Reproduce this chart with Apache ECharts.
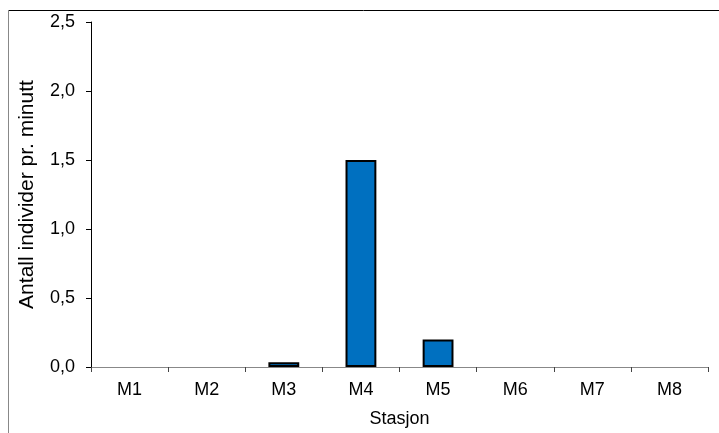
<!DOCTYPE html>
<html>
<head>
<meta charset="utf-8">
<script src="https://cdn.jsdelivr.net/npm/echarts@6/dist/echarts.min.js"></script>
<style>html,body{margin:0;padding:0;background:#fff}#c{width:719px;height:433px}</style>
</head>
<body>
<div id="c"></div>
<script>
var categories = ['M1','M2','M3','M4','M5','M6','M7','M8'];
var values = [0, 0, 0.035, 1.5, 0.2, 0, 0, 0];
var yTicks = [0, 0.5, 1.0, 1.5, 2.0, 2.5];

var chart = echarts.init(document.getElementById('c'), null, {renderer:'canvas'});
var font = 'Liberation Sans, Arial, sans-serif';
var barData = values.map(function(v){
  return v === 0 ? {value: v, itemStyle: {borderWidth: 0}} : v;
});
chart.setOption({
  animation: false,
  backgroundColor: '#fff',
  graphic: [
    {type:'line', shape:{x1:8, y1:10.5, x2:719, y2:10.5}, style:{stroke:'#000', lineWidth:1}},
    {type:'line', shape:{x1:8.5, y1:10, x2:8.5, y2:433}, style:{stroke:'#888', lineWidth:1}}
  ],
  grid: {left: 91, right: 11, top: 22, bottom: 66},
  xAxis: {
    type: 'category',
    data: categories,
    name: 'Stasjon',
    nameLocation: 'middle',
    nameGap: 43,
    nameTextStyle: {fontFamily: font, fontSize: 18, color: '#000'},
    axisLine: {lineStyle: {color: '#888', width: 1}},
    axisTick: {show: true, length: 5, lineStyle: {color: '#444'}},
    axisLabel: {fontFamily: font, fontSize: 18, color: '#000', margin: 14}
  },
  yAxis: {
    type: 'value',
    min: yTicks[0],
    max: yTicks[yTicks.length-1],
    interval: 0.5,
    name: 'Antall individer pr. minutt',
    nameLocation: 'middle',
    nameGap: 53,
    nameTextStyle: {fontFamily: font, fontSize: 21, color: '#000'},
    splitLine: {show: false},
    axisLine: {show: true, lineStyle: {color: '#000', width: 1}},
    axisTick: {show: true, length: 5, lineStyle: {color: '#000'}},
    axisLabel: {fontFamily: font, fontSize: 18, color: '#000', margin: 16,
      formatter: function(v){ return v.toFixed(1).replace('.', ','); }}
  },
  series: [{
    type: 'bar',
    data: barData,
    barWidth: '40%',
    itemStyle: {color: '#0070C0', borderColor: '#000', borderWidth: 2}
  }]
});
</script>
</body>
</html>
